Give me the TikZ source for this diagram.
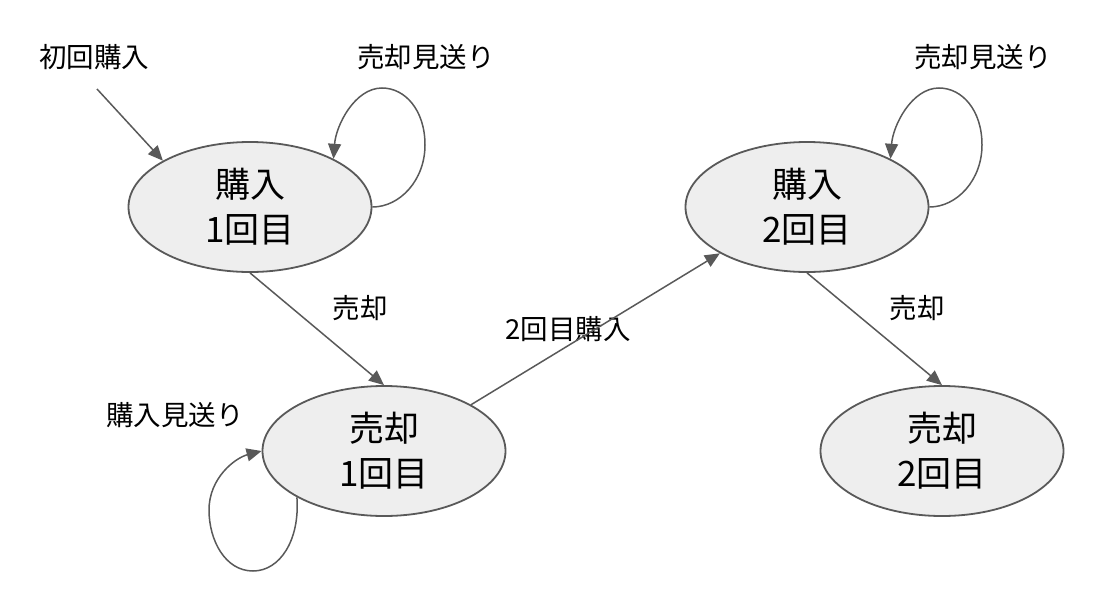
\documentclass[tikz,border=0pt]{standalone}
\usepackage{fontspec}
\setmainfont{Noto Sans CJK JP}
\usetikzlibrary{shapes.geometric,arrows.meta}
\definecolor{edge}{HTML}{595959}
\definecolor{fillc}{HTML}{EEEEEE}
\tikzset{
  state/.style={ellipse, draw=edge, fill=fillc, line width=1.8pt, minimum width=243pt, minimum height=130pt, inner sep=0pt, align=center, font=\fontsize{35}{45}\selectfont},
  lbl/.style={font=\fontsize{27.5}{30}\selectfont, inner sep=0pt},
  conn/.style={draw=edge, line width=1.5pt, -{Triangle[length=15pt,width=13pt]}}
}
\begin{document}
\begin{tikzpicture}[x=1pt,y=-1pt]
\useasboundingbox (0,0) rectangle (1101,597);
\node[state] (b1) at (250,207) {購入\\1回目};
\node[state] (b2) at (807,207) {購入\\2回目};
\node[state] (s1) at (384,451) {売却\\1回目};
\node[state] (s2) at (942,451) {売却\\2回目};

\node[lbl] (l0) at (94,57) {初回購入};
\node[lbl] (l1) at (426,57) {売却見送り};
\node[lbl] (l2) at (983,57) {売却見送り};
\node[lbl] (l3) at (175,415) {購入見送り};
\node[lbl] (l4) at (360,308) {売却};
\node[lbl] (l5) at (917,308) {売却};
\node[lbl] (l6) at (568,329) {2回目購入};

\coordinate (st) at (97,89);
\draw[conn] (st) -- (b1.152);
\draw[conn] (b1.south) -- (s1.north);
\draw[conn] (b2.south) -- (s2.north);
\draw[conn] (s1.28) -- (b2.208);

\draw[conn] (b1.east) .. controls (400,207) and (425,180) .. (425,145)
  .. controls (425,110) and (405,88) .. (382,88)
  .. controls (355,88) and (336,125) .. (b1.30);
\draw[conn] (b2.east) .. controls (957,207) and (982,180) .. (982,145)
  .. controls (982,110) and (962,88) .. (939,88)
  .. controls (912,88) and (893,125) .. (b2.30);
\draw[conn] (s1.208) .. controls (300,540) and (280,571) .. (253,571)
  .. controls (225,571) and (209,540) .. (209,510)
  .. controls (209,478) and (235,458) .. (s1.west);
\end{tikzpicture}
\end{document}
